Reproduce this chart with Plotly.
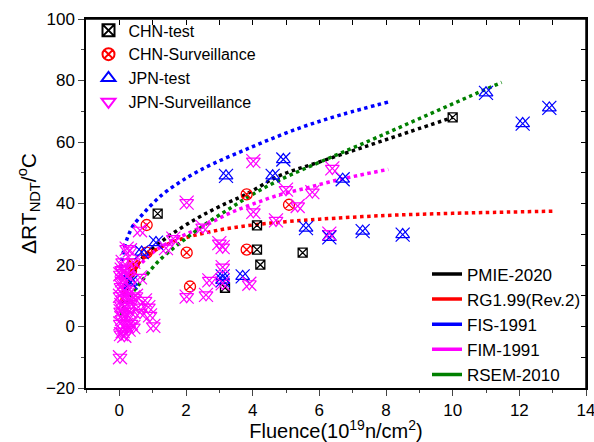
import plotly.graph_objects as go

# ---------------- data ----------------
chn_test_x = [1.15, 3.17, 4.13, 4.13, 4.23, 5.5, 10.0]
chn_test_y = [36.7, 12.6, 32.9, 25.0, 20.1, 24.0, 68.0]

chn_surv_x = [0.42, 0.35, 0.82, 0.82, 2.02, 2.12, 3.82, 3.82, 5.09]
chn_surv_y = [20.2, 18.0, 33.0, 24.0, 24.0, 13.0, 25.0, 43.0, 39.6]

jpn_test_x = [0.34, 0.67, 1.1, 3.1, 3.1, 3.2, 3.7, 4.6, 4.92, 5.6, 6.3, 6.7, 7.3, 8.5, 11.0, 12.1, 12.9]
jpn_test_y = [14.4, 24.2, 27.3, 16.3, 15.0, 49.0, 16.3, 49.0, 54.3, 32.0, 29.0, 47.9, 31.0, 29.9, 76.0, 66.0, 71.1]

jpn_surv_x = [0.02, 0.05, 0.10, 0.15, 0.03, 0.08, 0.20, 0.12, 0.04, 0.25, 0.06, 0.18, 0.30, 0.10,
              0.02, 0.22, 0.14, 0.05, 0.28, 0.08, 0.18, 0.03, 0.12, 0.25, 0.07, 0.20, 0.10, 0.35,
              0.42, 0.42, 0.57, 0.62, 0.77, 0.87, 0.92, 1.02, 0.50, 0.32, 0.62, 0.62, 0.35, 0.28,
              0.22, 0.42, 1.40, 1.62,
              2.02, 2.02, 2.5, 2.6, 2.7, 3.0, 3.1, 3.1, 3.1, 3.9, 4.02, 4.02, 4.7, 5.0, 5.35,
              5.79, 6.3, 6.39]
jpn_surv_y = [-10.0, -2.5, -1.5, -3.0, 1.0, 2.5, 0.5, 4.0, 5.0, 3.5, 7.0, 6.5, 5.0, 9.0,
              10.0, 9.5, 11.5, 13.0, 12.0, 15.0, 14.5, 17.0, 17.5, 16.5, 18.5, 19.0, 21.0, 7.5,
              9.5, -0.2, 6.3, 4.5, 8.5, 6.3, 3.6, 0.2, 10.0, 24.8, 31.3, 16.0, 1.0, -1.0,
              25.3, 21.0, 25.5, 28.6,
              40.3, 9.7, 32.3, 10.3, 15.0, 27.1, 25.8, 19.3, 14.0, 13.9, 53.8, 37.3, 34.5, 44.5, 39.2,
              43.7, 30.2, 51.4]

pmie_x = [0.07, 0.2, 0.35, 0.6, 0.9, 1.5, 2.3, 3.0, 3.8, 4.8, 6.0, 7.4, 8.7, 10.0]
pmie_y = [7.5, 11.5, 15.5, 21.0, 24.5, 29.5, 35.0, 39.0, 43.0, 49.0, 53.5, 58.6, 63.3, 68.0]

rg_x = [0.07, 0.15, 0.3, 0.6, 1.0, 1.5, 2.0, 3.0, 4.0, 5.0, 6.0, 8.0, 10.0, 13.0]
rg_y = [8.0, 12.2, 16.3, 21.0, 24.3, 27.0, 28.9, 31.4, 33.0, 34.1, 34.9, 36.1, 36.8, 37.5]

fis_x = [0.05, 0.08, 0.17, 0.27, 0.42, 0.7, 1.0, 1.42, 2.42, 4.0, 5.42, 6.7, 8.07]
fis_y = [19.0, 22.0, 26.4, 29.6, 32.9, 36.5, 40.0, 44.0, 50.8, 58.5, 64.6, 69.0, 73.0]

fim_x = [0.1, 0.2, 0.4, 0.7, 1.0, 1.5, 2.0, 2.6, 3.3, 4.0, 4.8, 5.6, 6.3, 7.2, 8.07]
fim_y = [11.5, 14.5, 18.0, 21.0, 24.0, 27.5, 30.0, 33.0, 36.8, 39.8, 42.8, 45.0, 47.0, 49.2, 51.1]

rsem_x = [0.05, 0.17, 0.37, 0.65, 1.2, 1.8, 2.6, 3.3, 4.0, 4.8, 6.3, 7.5, 8.5, 9.5, 10.5, 11.47]
rsem_y = [3.5, 7.0, 10.6, 14.5, 21.5, 27.0, 33.4, 38.3, 43.0, 47.6, 54.8, 60.4, 65.2, 70.0, 74.8, 79.4]

x_range = [-1, 14]
y_range = [-20, 100]
x_ticks_top = list(range(0, 15))
y_ticks_right = list(range(-20, 101, 10))

FONT = "Liberation Sans, Arial, sans-serif"

fig = go.Figure()

# ---------------- fitted curves (dotted) ----------------
curves = [
    ("PMIE-2020", pmie_x, pmie_y, "#000000"),
    ("RG1.99(Rev.2)", rg_x, rg_y, "#ff0000"),
    ("FIS-1991", fis_x, fis_y, "#0000ff"),
    ("FIM-1991", fim_x, fim_y, "#ff00ff"),
    ("RSEM-2010", rsem_x, rsem_y, "#008000"),
]
for name, xs, ys, c in curves:
    fig.add_trace(go.Scatter(x=xs, y=ys, mode="lines", line=dict(color=c, width=3.5, dash="dot", shape="spline"),
                             showlegend=False, hoverinfo="skip"))

# ---------------- scatter data ----------------
fig.add_trace(go.Scatter(x=chn_test_x, y=chn_test_y, mode="markers", name="CHN-test",
                         marker=dict(symbol="square-x-open", size=9, color="#000000", line=dict(width=1.3)),
                         legend="legend"))
fig.add_trace(go.Scatter(x=chn_surv_x, y=chn_surv_y, mode="markers", name="CHN-Surveillance",
                         marker=dict(symbol="circle-x-open", size=11, color="#ff0000", line=dict(width=1.3)),
                         legend="legend"))
fig.add_trace(go.Scatter(x=jpn_test_x, y=jpn_test_y, mode="markers", name="JPN-test", legendgroup="jt",
                         marker=dict(symbol="triangle-up-open", size=12, color="#0000ff", line=dict(width=1.2)),
                         legend="legend"))
fig.add_trace(go.Scatter(x=jpn_test_x, y=jpn_test_y, mode="markers", name="JPN-test", legendgroup="jt",
                         showlegend=False, xaxis="x2", yaxis="y2",
                         marker=dict(symbol="x-thin-open", size=14, color="#0000ff", line=dict(width=1.2, color="#0000ff"))))
fig.add_trace(go.Scatter(x=jpn_surv_x, y=jpn_surv_y, mode="markers", name="JPN-Surveillance", legendgroup="js",
                         marker=dict(symbol="triangle-down-open", size=12, color="#ff00ff", line=dict(width=1.2)),
                         legend="legend"))
fig.add_trace(go.Scatter(x=jpn_surv_x, y=jpn_surv_y, mode="markers", name="JPN-Surveillance", legendgroup="js",
                         showlegend=False, xaxis="x2", yaxis="y2",
                         marker=dict(symbol="x-thin-open", size=14, color="#ff00ff", line=dict(width=1.2, color="#ff00ff"))))

# ---------------- line legend (solid swatches) ----------------
for name, xs, ys, c in curves:
    fig.add_trace(go.Scatter(x=[None], y=[None], mode="lines", name=name,
                             line=dict(color=c, width=3.5), legend="legend2"))

# ---------------- top / right frame edges (plot-area box, normalised axes) ----------------
fig.add_trace(go.Scatter(x=[0, 1, 1], y=[1, 1, 0], xaxis="x3", yaxis="y3", mode="lines",
                         line=dict(color="black", width=1.5), showlegend=False, hoverinfo="skip",
                         cliponaxis=False))

common = dict(showgrid=False, zeroline=False, automargin=False)

fig.update_layout(
    width=594, height=442,
    margin=dict(l=86, r=8, t=19, b=54, autoexpand=False),
    paper_bgcolor="white", plot_bgcolor="white",
    font=dict(family=FONT, size=17, color="#000000"),
    legend=dict(x=0.005, y=1.015, xanchor="left", yanchor="top", bgcolor="rgba(0,0,0,0)",
                font=dict(size=16), tracegroupgap=0, itemsizing="constant"),
    legend2=dict(x=1.0, y=-0.012, xanchor="right", yanchor="bottom", bgcolor="rgba(0,0,0,0)",
                 font=dict(size=17), tracegroupgap=0),
    xaxis=dict(range=x_range, tickmode="linear", tick0=0, dtick=2, ticks="outside", ticklen=6, tickwidth=1.3,
               showline=True, mirror=True, linecolor="black", linewidth=1.5, ticklabeloverflow="allow",
               minor=dict(ticks="outside", dtick=1, ticklen=3, tickwidth=1.3, showgrid=False),
               tickfont=dict(size=17),
               title=dict(text="Fluence(10<sup>19</sup>n/cm<sup>2</sup>)", font=dict(size=20), standoff=2),
               **common),
    yaxis=dict(range=y_range, tickmode="linear", tick0=0, dtick=20, ticks="outside", ticklen=6, tickwidth=1.3,
               showline=True, mirror=True, linecolor="black", linewidth=1.5, ticklabeloverflow="allow",
               minor=dict(ticks="outside", dtick=10, ticklen=3, tickwidth=1.3, showgrid=False),
               tickfont=dict(size=17),
               title=dict(text="ΔRT<sub>NDT</sub>/<sup>o</sup>C", font=dict(size=21), standoff=4),
               **common),
    xaxis2=dict(range=x_range, overlaying="x", side="top", anchor="free", position=1.0,
                tickmode="array", tickvals=x_ticks_top,
                ticks="inside", ticklen=5, tickwidth=1.3, tickcolor="black", showticklabels=False,
                showline=False, **common),
    yaxis2=dict(range=y_range, overlaying="y", side="right", anchor="free", position=1.0,
                tickmode="array", tickvals=y_ticks_right,
                ticks="inside", ticklen=5, tickwidth=1.3, tickcolor="black", showticklabels=False,
                showline=False, **common),
    xaxis3=dict(range=[0, 1], overlaying="x", visible=False, fixedrange=True, **common),
    yaxis3=dict(range=[0, 1], overlaying="y", visible=False, fixedrange=True, **common),
)

fig.write_html("out.html", config={"displayModeBar": False},
               post_script="document.body.style.margin='0';document.body.style.padding='0';"
                           "document.documentElement.style.margin='0';document.body.style.overflow='hidden';")
